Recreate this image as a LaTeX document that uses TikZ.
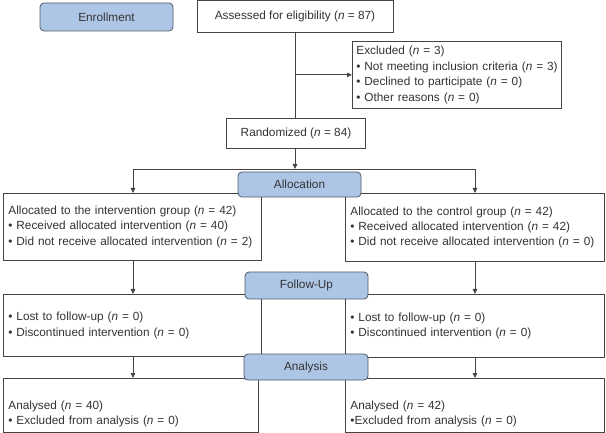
\documentclass[tikz,border=0pt]{standalone}
\usepackage{fontspec}
\setmainfont{Liberation Sans}
\usepackage{tikz}
\usetikzlibrary{arrows.meta,positioning,calc}
\definecolor{stagefill}{HTML}{AEC6E6}
\definecolor{stageline}{HTML}{4E5A69}
\definecolor{boxline}{HTML}{444444}
\definecolor{txt}{HTML}{333333}
\newcommand{\fsz}{\fontsize{11.8}{15.4}\selectfont}
\newcommand{\nn}{\textit{n}}
\newcommand{\toppad}[1]{\rule{0pt}{#1}}

\begin{document}
\begin{tikzpicture}[x=1pt, y=-1pt,
    stage/.style={rectangle, rounded corners=4pt, draw=stageline, fill=stagefill,
                  text=txt, font=\fsz, line width=0.8pt, inner sep=0pt},
    box/.style={rectangle, draw=boxline, fill=white, text=txt, font=\fsz,
                line width=0.8pt, inner sep=0pt},
    lbox/.style={box, anchor=north west, align=left, inner xsep=5pt},
    arr/.style={-{Triangle[length=5pt,width=4.5pt]}, draw=boxline, line width=0.8pt},
    link/.style={draw=boxline, line width=0.8pt},
]
\useasboundingbox (0,0) rectangle (606,433);

% enrollment
\node[stage, minimum width=133pt, minimum height=28pt] (enroll) at (106.5,17) {Enrollment};
\node[box, minimum width=196pt, minimum height=31.5pt] (assess) at (295,16.25) {Assessed for eligibility (\nn{} = 87)};
\node[lbox, text width=201pt, minimum height=67pt, inner xsep=4pt] (excl) at (352,41)
  {Excluded (\nn{} = 3)\\
   \mbox{\textbullet{} Not meeting inclusion criteria (\nn{} = 3)}\\
   \textbullet{} Declined to participate (\nn{} = 0)\\
   \textbullet{} Other reasons (\nn{} = 0)};
\node[box, minimum width=139pt, minimum height=30pt] (rand) at (296,133) {Randomized (\nn{} = 84)};

% allocation
\node[lbox, text width=248pt, minimum height=67pt] (allocL) at (3,193)
  {Allocated to the intervention group (\nn{} = 42)\\
   \textbullet{} Received allocated intervention (\nn{} = 40)\\
   \mbox{\textbullet{} Did not receive allocated intervention (\nn{} = 2)}};
\node[lbox, text width=249pt, minimum height=68pt] (allocR) at (345,193)
  {Allocated to the control group (\nn{} = 42)\\
   \textbullet{} Received allocated intervention (\nn{} = 42)\\
   \mbox{\textbullet{} Did not receive allocated intervention (\nn{} = 0)}};
\node[stage, minimum width=123pt, minimum height=25pt] (alloc) at (299.5,184.5) {Allocation};

% follow-up
\node[lbox, text width=248pt, minimum height=62pt] (fupL) at (3,294)
  {\textbullet{} Lost to follow-up (\nn{} = 0)\\
   \textbullet{} Discontinued intervention (\nn{} = 0)};
\node[lbox, text width=249pt, minimum height=63pt] (fupR) at (345,294)
  {\textbullet{} Lost to follow-up (\nn{} = 0)\\
   \textbullet{} Discontinued intervention (\nn{} = 0)};
\node[stage, minimum width=123pt, minimum height=27pt] (follow) at (306.5,285.5) {Follow-Up};

% analysis
\node[lbox, text width=245pt, minimum height=54pt] (anlL) at (3,378)
  {\toppad{26pt}Analysed (\nn{} = 40)\\
   \textbullet{} Excluded from analysis (\nn{} = 0)};
\node[lbox, text width=249pt, minimum height=54pt] (anlR) at (345,378)
  {\toppad{26pt}Analysed (\nn{} = 42)\\
   \textbullet Excluded from analysis (\nn{} = 0)};
\node[stage, minimum width=124pt, minimum height=26pt] (anal) at (306,367) {Analysis};

% connectors
\coordinate (exclin) at (assess.south |- excl.west);
\coordinate (split) at (295,169);
\coordinate (splitL) at (133,169);
\coordinate (splitR) at (475,169);
\draw[link] (assess.south) -- (assess.south |- rand.north);
\draw[arr] (exclin) -- (excl.west);
\draw[arr] (split |- rand.south) -- (split);
\draw[link] (splitL) -- (splitR);
\draw[arr] (splitL) -- (splitL |- allocL.north);
\draw[arr] (splitR) -- (splitR |- allocR.north);
\draw[arr] (splitL |- allocL.south) -- (splitL |- fupL.north);
\draw[arr] (splitR |- allocR.south) -- (splitR |- fupR.north);
\draw[arr] (splitL |- fupL.south) -- (splitL |- anlL.north);
\draw[arr] (splitR |- fupR.south) -- (splitR |- anlR.north);
\end{tikzpicture}
\end{document}
